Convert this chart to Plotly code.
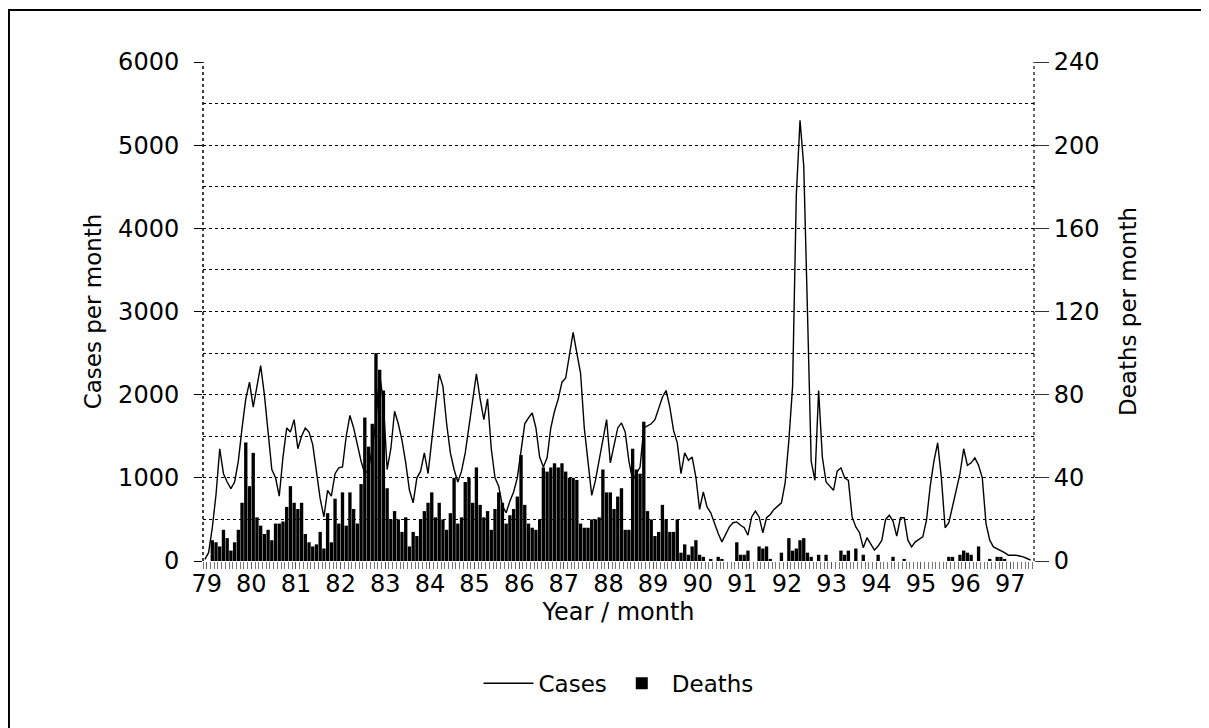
import plotly.graph_objects as go

# Year tick labels (one per January, 1979-1997)
year_labels = ["79", "80", "81", "82", "83", "84", "85", "86", "87", "88",
               "89", "90", "91", "92", "93", "94", "95", "96", "97"]

# Monthly cases, Jan 1979 .. Jul 1997
cases_1979 = [20, 100, 400, 800, 1350, 1050, 950, 870, 950, 1200, 1600, 1950]
cases_1980 = [2150, 1850, 2100, 2350, 2000, 1500, 1100, 1000, 780, 1250, 1600, 1550]
cases_1981 = [1700, 1350, 1500, 1600, 1550, 1400, 1050, 750, 530, 850, 780, 1050]
cases_1982 = [1120, 1130, 1500, 1750, 1600, 1400, 1200, 1050, 1100, 1350, 1700, 2250]
cases_1983 = [1900, 1100, 1350, 1800, 1650, 1450, 1180, 850, 700, 1000, 1080, 1300]
cases_1984 = [1050, 1450, 1850, 2250, 2100, 1650, 1300, 1100, 950, 1080, 1300, 1600]
cases_1985 = [1950, 2250, 1950, 1700, 1950, 1350, 1000, 900, 660, 580, 720, 830]
cases_1986 = [1000, 1350, 1650, 1720, 1780, 1600, 1250, 1130, 1240, 1600, 1800, 1950]
cases_1987 = [2150, 2200, 2500, 2750, 2500, 2260, 1600, 1200, 790, 970, 1200, 1450]
cases_1988 = [1700, 1180, 1400, 1600, 1660, 1550, 1200, 970, 1050, 1130, 1600, 1630]
cases_1989 = [1650, 1700, 1850, 1970, 2050, 1850, 1570, 1420, 1050, 1300, 1210, 1250]
cases_1990 = [1010, 620, 830, 650, 580, 450, 330, 230, 320, 410, 460, 470]
cases_1991 = [430, 400, 310, 530, 600, 530, 340, 520, 560, 620, 660, 700]
cases_1992 = [940, 1450, 2100, 4400, 5300, 4750, 3000, 1200, 970, 2050, 1250, 950]
cases_1993 = [900, 850, 1080, 1120, 1000, 970, 530, 410, 340, 160, 280, 200]
cases_1994 = [130, 180, 250, 500, 550, 480, 300, 520, 520, 250, 170, 230]
cases_1995 = [260, 290, 490, 900, 1200, 1420, 1000, 400, 460, 650, 830, 1050]
cases_1996 = [1350, 1150, 1180, 1240, 1150, 1000, 450, 250, 170, 150, 130, 100]
cases_1997 = [70, 70, 70, 60, 50, 30, 10]

# Monthly deaths, Jan 1979 .. Jul 1997
deaths_1979 = [0, 0, 10, 9, 7, 15, 11, 5, 9, 15, 28, 57]
deaths_1980 = [36, 52, 21, 17, 13, 15, 10, 18, 18, 19, 26, 36]
deaths_1981 = [28, 25, 28, 13, 9, 7, 8, 14, 6, 23, 9, 30]
deaths_1982 = [18, 33, 17, 33, 25, 18, 37, 69, 55, 66, 100, 92]
deaths_1983 = [82, 35, 20, 24, 20, 14, 21, 7, 14, 12, 20, 24]
deaths_1984 = [28, 33, 21, 28, 20, 15, 23, 40, 18, 21, 38, 40]
deaths_1985 = [28, 45, 27, 21, 24, 15, 25, 33, 28, 18, 22, 25]
deaths_1986 = [31, 51, 27, 18, 16, 15, 20, 45, 43, 45, 47, 45]
deaths_1987 = [47, 43, 40, 40, 39, 18, 16, 16, 20, 20, 21, 44]
deaths_1988 = [33, 33, 25, 31, 35, 15, 15, 54, 44, 42, 67, 24]
deaths_1989 = [20, 12, 14, 27, 20, 14, 14, 20, 4, 8, 3, 7]
deaths_1990 = [10, 3, 2, 0, 1, 0, 2, 1, 0, 0, 0, 9]
deaths_1991 = [3, 3, 5, 0, 0, 7, 6, 7, 1, 0, 0, 4]
deaths_1992 = [0, 11, 5, 6, 10, 11, 4, 2, 0, 3, 0, 3]
deaths_1993 = [0, 0, 0, 5, 3, 5, 0, 6, 0, 3, 0, 0]
deaths_1994 = [0, 3, 0, 0, 0, 2, 0, 0, 1, 0, 0, 0]
deaths_1995 = [0, 0, 0, 0, 0, 0, 0, 0, 2, 2, 0, 3]
deaths_1996 = [5, 4, 3, 0, 7, 0, 0, 1, 0, 2, 2, 1]
deaths_1997 = [0, 0, 0, 0, 0, 0, 0]

cases = (cases_1979 + cases_1980 + cases_1981 + cases_1982 + cases_1983 + cases_1984 +
         cases_1985 + cases_1986 + cases_1987 + cases_1988 + cases_1989 + cases_1990 +
         cases_1991 + cases_1992 + cases_1993 + cases_1994 + cases_1995 + cases_1996 +
         cases_1997)
deaths = (deaths_1979 + deaths_1980 + deaths_1981 + deaths_1982 + deaths_1983 + deaths_1984 +
          deaths_1985 + deaths_1986 + deaths_1987 + deaths_1988 + deaths_1989 + deaths_1990 +
          deaths_1991 + deaths_1992 + deaths_1993 + deaths_1994 + deaths_1995 + deaths_1996 +
          deaths_1997)

months = list(range(len(cases)))          # month index from Jan 1979
year_ticks = [12 * k + 0.5 for k in range(len(year_labels))]

FONT = "DejaVu Sans"

fig = go.Figure()
fig.add_trace(go.Bar(
    x=months, y=deaths, yaxis="y2", name="Deaths",
    marker=dict(color="black", line=dict(width=0)),
    legendrank=2,
))
fig.add_trace(go.Scatter(
    x=months, y=cases, mode="lines", name="Cases",
    line=dict(color="black", width=1.4),
    legendrank=1,
))

# The page adds an 8px body margin, so the figure is sized/offset to compensate.
fig.update_layout(
    width=1201, height=720,
    margin=dict(l=195, r=175, t=54, b=167),
    paper_bgcolor="white", plot_bgcolor="white",
    font=dict(family=FONT, size=23, color="black"),
    bargap=0.1,
    showlegend=True,
    legend=dict(orientation="h", x=0.5, xanchor="center", y=-0.245, yanchor="middle",
                font=dict(family=FONT, size=23), itemwidth=50,
                bgcolor="rgba(0,0,0,0)"),
    xaxis=dict(
        range=[-0.5, 222.9],
        tickmode="array", tickvals=year_ticks, ticktext=year_labels,
        ticks="outside", ticklen=7, tickcolor="#555", tickwidth=1,
        minor=dict(tickmode="linear", tick0=0.5, dtick=1, ticks="outside",
                   ticklen=7, tickcolor="#777", tickwidth=1, showgrid=False),
        showgrid=False, zeroline=False, showline=False,
        tickfont=dict(family=FONT, size=24), ticklabelstandoff=-6,
        title=dict(text="Year / month", font=dict(family=FONT, size=24), standoff=2),
    ),
    yaxis=dict(
        range=[0, 6000], dtick=1000, tick0=0,
        ticks="outside", ticklen=8, tickcolor="black", tickwidth=1,
        showgrid=True, gridcolor="black", gridwidth=1.2, griddash="dot",
        minor=dict(dtick=500, tick0=0, showgrid=True, gridcolor="black",
                   gridwidth=1.2, griddash="dot"),
        zeroline=False, showline=False,
        tickfont=dict(family=FONT, size=24), ticklabelstandoff=10,
        title=dict(text="Cases per month", font=dict(family=FONT, size=23), standoff=10),
    ),
    yaxis2=dict(
        range=[0, 240], dtick=40, tick0=0, overlaying="y", side="right",
        ticks="outside", ticklen=14, tickcolor="#333", tickwidth=1,
        showgrid=False, zeroline=False, showline=False,
        tickfont=dict(family=FONT, size=24),
        title=dict(text="Deaths per month", font=dict(family=FONT, size=23), standoff=21),
    ),
    shapes=[
        # dotted axis lines
        dict(type="line", xref="paper", yref="paper", x0=0, x1=0, y0=0, y1=1,
             line=dict(color="black", width=1.5, dash="dot")),
        dict(type="line", xref="paper", yref="paper", x0=1, x1=1, y0=0, y1=1,
             line=dict(color="black", width=1.2, dash="dot")),
        # outer frame of the figure
        dict(type="rect", xref="paper", yref="paper",
             x0=-0.2335, x1=1.2082, y0=-0.40, y1=1.104,
             line=dict(color="black", width=2), layer="below"),
    ],
)

fig.write_html("out.html")
